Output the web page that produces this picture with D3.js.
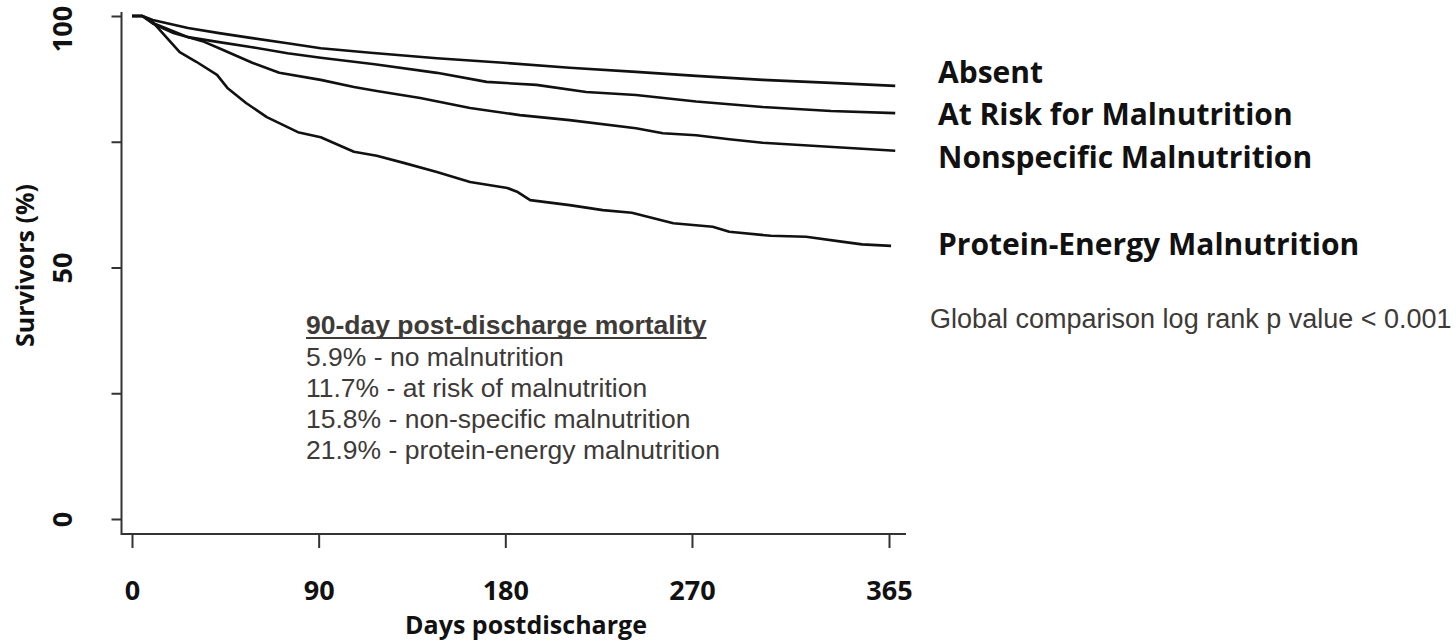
<!DOCTYPE html>
<html>
<head>
<meta charset="utf-8">
<script src="https://cdn.jsdelivr.net/npm/d3@7"></script>
<style>
  body { margin: 0; background: #fff; }
  svg { display: block; }
</style>
</head>
<body>
<div id="container"></div>
<script>
const w = 1456;
const h = 643;

// Kaplan-Meier curves: [day, % surviving]
const absent = [
  [0, 100], [5, 100], [10, 99.2], [27, 97.6], [42, 96.6], [58, 95.6], [75, 94.6],
  [91, 93.6], [115, 92.7], [147, 91.6], [179, 90.7], [211, 89.7], [243, 88.9],
  [272, 88.1], [304, 87.3], [337, 86.7], [368, 86.1]
];
const atRisk = [
  [0, 100], [5, 100], [10, 98.6], [27, 95.8], [42, 94.8], [58, 93.8], [75, 92.6],
  [91, 91.7], [117, 90.4], [147, 88.7], [171, 86.9], [195, 86.3], [219, 84.9],
  [243, 84.3], [272, 83.0], [304, 81.9], [337, 81.1], [368, 80.7]
];
const nonspecific = [
  [0, 100], [5, 100], [10, 98.5], [20, 96.6], [34, 95.0], [42, 93.6], [58, 90.7],
  [71, 88.7], [91, 87.3], [107, 85.9], [118, 85.1], [139, 83.7], [163, 81.7],
  [187, 80.3], [211, 79.3], [243, 77.7], [256, 76.7], [272, 76.3], [288, 75.5],
  [304, 74.8], [328, 74.2], [352, 73.6], [368, 73.2]
];
const proteinEnergy = [
  [0, 100], [5, 100], [10, 98.8], [23, 92.8], [31, 90.9], [41, 88.3], [46, 85.7],
  [55, 82.7], [65, 79.9], [80, 76.9], [91, 75.9], [107, 73.0], [118, 72.2],
  [131, 70.8], [147, 69.0], [163, 67.0], [181, 65.8], [186, 65.0], [192, 63.4],
  [211, 62.4], [227, 61.4], [241, 60.9], [261, 58.8], [280, 58.1], [288, 57.1],
  [308, 56.3], [325, 56.1], [343, 55.1], [352, 54.6], [366, 54.3]
];

const groupNames = [
  "Absent",
  "At Risk for Malnutrition",
  "Nonspecific Malnutrition",
  "Protein-Energy Malnutrition"
];
const xTicks = [0, 90, 180, 270, 365];
const yTicks = [0, 25, 50, 75, 100];
const yTickLabels = [0, 50, 100];

const mortalityTitle = "90-day post-discharge mortality";
const mortalityLines = [
  "5.9% - no malnutrition",
  "11.7% - at risk of malnutrition",
  "15.8% - non-specific malnutrition",
  "21.9% - protein-energy malnutrition"
];
const pValueNote = "Global comparison log rank p value < 0.001";

// layout
const axisX = 121.5;
const axisY = 534;
const legendX = 938;
const legendBaselines = [83, 125, 168, 255];
const labelFont = "'Open Sans', Lato, sans-serif";
const noteFont = "'Liberation Sans', Arial, sans-serif";

const svg = d3
  .select("#container")
  .append("svg")
  .attr("width", w)
  .attr("height", h)
  .style("background-color", "#fff");

const xScale = d3.scaleLinear().domain([0, 365]).range([132, 889]);
const yScale = d3.scaleLinear().domain([0, 100]).range([519, 16]);

// L-shaped frame
svg
  .append("path")
  .attr("d", `M${axisX},12V${axisY}H906`)
  .attr("fill", "none")
  .attr("stroke", "#333")
  .attr("stroke-width", 2);

const xAxis = d3.axisBottom(xScale).tickValues(xTicks).tickSize(14);
const gx = svg
  .append("g")
  .attr("transform", `translate(0, ${axisY})`)
  .call(xAxis);
gx.select(".domain").remove();
gx.selectAll("line").attr("stroke", "#333").attr("stroke-width", 2);
gx.selectAll("text")
  .attr("y", 66)
  .attr("dy", null)
  .attr("fill", "#111")
  .style("font-family", labelFont)
  .style("font-weight", 700)
  .style("font-size", "27px");

const yAxis = d3
  .axisLeft(yScale)
  .tickValues(yTicks)
  .tickSize(10)
  .tickFormat(d => (yTickLabels.includes(d) ? d : ""));
const gy = svg
  .append("g")
  .attr("transform", `translate(${axisX}, 0)`)
  .call(yAxis);
gy.select(".domain").remove();
gy.selectAll("line").attr("stroke", "#333").attr("stroke-width", 2);
gy.selectAll("text")
  .attr("x", 0)
  .attr("y", 0)
  .attr("dy", null)
  .attr("text-anchor", "middle")
  .attr(
    "transform",
    d => `translate(${72 - axisX}, ${Math.max(yScale(d), 28.5) - yScale(d)}) rotate(-90)`
  )
  .attr("fill", "#111")
  .style("font-family", labelFont)
  .style("font-weight", 700)
  .style("font-size", "27px");

svg
  .append("text")
  .text("Survivors (%)")
  .attr("transform", `translate(34, ${yScale(50) - 2}) rotate(-90)`)
  .attr("text-anchor", "middle")
  .attr("fill", "#111")
  .style("font-family", labelFont)
  .style("font-weight", 700)
  .style("font-size", "25px");

svg
  .append("text")
  .text("Days postdischarge")
  .attr("x", 526)
  .attr("y", 634)
  .attr("text-anchor", "middle")
  .attr("fill", "#111")
  .style("font-family", labelFont)
  .style("font-weight", 700)
  .style("font-size", "25px");

// survival curves
const line = d3
  .line()
  .x(d => xScale(d[0]))
  .y(d => yScale(d[1]));

svg
  .selectAll("path.curve")
  .data([absent, atRisk, nonspecific, proteinEnergy])
  .enter()
  .append("path")
  .attr("class", "curve")
  .attr("d", line)
  .attr("fill", "none")
  .attr("stroke", "#111")
  .attr("stroke-width", 2.6)
  .attr("stroke-linejoin", "round");

svg
  .selectAll("text.legend")
  .data(groupNames)
  .enter()
  .append("text")
  .attr("class", "legend")
  .text(d => d)
  .attr("x", legendX)
  .attr("y", (d, i) => legendBaselines[i])
  .attr("fill", "#111")
  .style("font-family", labelFont)
  .style("font-weight", 700)
  .style("font-size", "30px");

// mortality note
const note = svg.append("g").attr("transform", "translate(306, 334)");
const noteTitle = note
  .append("text")
  .text(mortalityTitle)
  .attr("fill", "#3d3a38")
  .style("font-family", noteFont)
  .style("font-weight", 700)
  .style("font-size", "26.5px");
note
  .append("rect")
  .attr("x", 0)
  .attr("y", 3)
  .attr("width", noteTitle.node().getComputedTextLength())
  .attr("height", 2)
  .attr("fill", "#3d3a38");
note
  .selectAll("text.row")
  .data(mortalityLines)
  .enter()
  .append("text")
  .attr("class", "row")
  .text(d => d)
  .attr("y", (d, i) => 32 + i * 31)
  .attr("fill", "#3d3a38")
  .style("font-family", noteFont)
  .style("font-size", "26.5px");

svg
  .append("text")
  .text(pValueNote)
  .attr("x", 930)
  .attr("y", 328)
  .attr("fill", "#3d3a38")
  .style("font-family", noteFont)
  .style("font-size", "27px");
</script>
</body>
</html>
